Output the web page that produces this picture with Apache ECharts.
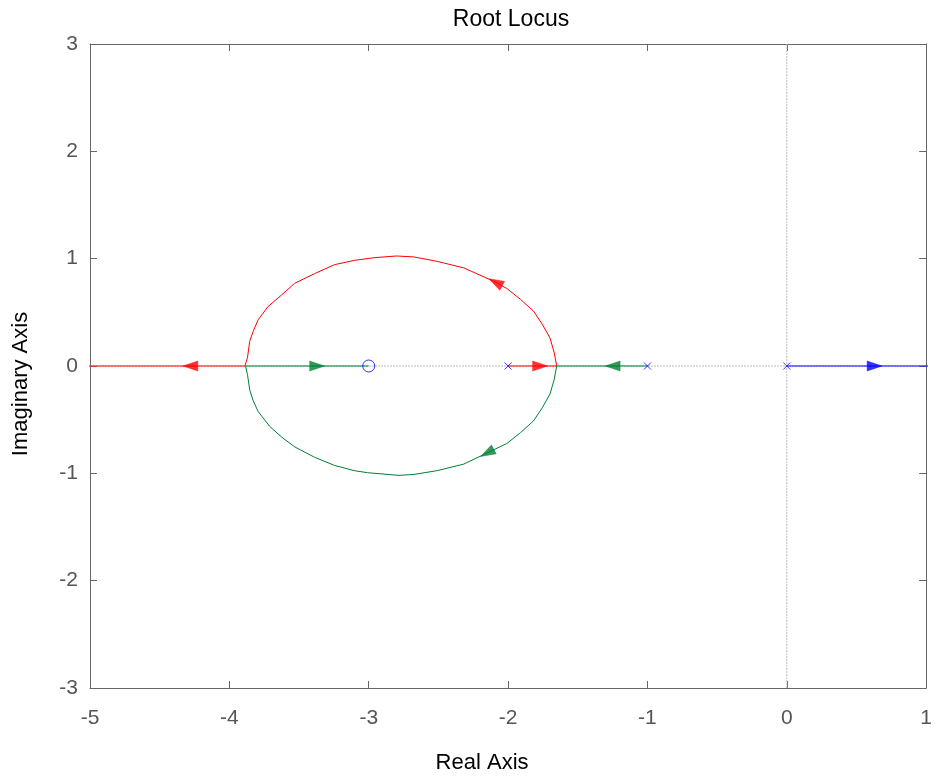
<!DOCTYPE html>
<html>
<head>
<meta charset="utf-8">
<script src="https://cdn.jsdelivr.net/npm/echarts@6/dist/echarts.min.js"></script>
<style>html,body{margin:0;padding:0;background:#fff}#c{width:935px;height:779px}</style>
</head>
<body>
<div id="c"></div>
<script>
// Tick labels
var xTicks = [-5, -4, -3, -2, -1, 0, 1];
var yTicks = [-3, -2, -1, 0, 1, 2, 3];

// Open-loop poles and zeros
var poles = [[0, 0], [-1, 0], [-2, 0]];
var zeros = [[-3, 0]];

// Branch 1 (blue): pole at 0 to +inf
var blueBranch = [[0, 0], [1.2, 0]];

// Branch 2 (red): pole -2 -> breakaway -> upper arc -> break-in -> -inf
var redReal1 = [[-2, 0], [-1.651, 0]];
var redUpper = [
  [-1.651, 0.0], [-1.670, 0.13], [-1.699, 0.26], [-1.755, 0.39], [-1.818, 0.512],
  [-1.910, 0.62], [-2.009, 0.722], [-2.104, 0.79], [-2.318, 0.914], [-2.509, 0.975],
  [-2.675, 1.016], [-2.800, 1.025], [-2.961, 1.009], [-3.104, 0.984], [-3.246, 0.944],
  [-3.389, 0.86], [-3.532, 0.77], [-3.627, 0.66], [-3.723, 0.553], [-3.794, 0.43],
  [-3.830, 0.32], [-3.854, 0.23], [-3.870, 0.077], [-3.889, 0.0]
];
var redReal2 = [[-3.889, 0], [-5.2, 0]];

// Branch 3 (green): pole -1 -> breakaway -> lower arc -> break-in -> zero -3
var greenReal1 = [[-1, 0], [-1.651, 0]];
var greenLower = [
  [-1.651, 0.0], [-1.670, -0.13], [-1.699, -0.26], [-1.755, -0.39], [-1.818, -0.512],
  [-1.910, -0.62], [-2.009, -0.722], [-2.150, -0.81], [-2.318, -0.914], [-2.509, -0.975],
  [-2.675, -1.010], [-2.782, -1.019], [-3.009, -0.994], [-3.104, -0.975], [-3.246, -0.926],
  [-3.389, -0.85], [-3.532, -0.753], [-3.627, -0.66], [-3.711, -0.562], [-3.794, -0.423],
  [-3.830, -0.32], [-3.854, -0.222], [-3.870, -0.08], [-3.884, 0.0]
];
var greenReal2 = [[-3.884, 0], [-3, 0]];

// Direction arrows: [x, y, direction angle in degrees]
var blueArrows = [[0.63, 0, 0]];
var redArrows = [[-4.28, 0, 180], [-2.09, 0.78, 152], [-1.77, 0, 0]];
var greenArrows = [[-3.37, 0, 0], [-1.25, 0, 180], [-2.15, -0.81, 208]];

var BLUE = '#0000ff', RED = '#ff0000', GREEN = '#008033', GREY = '#bdbdbd';
var FONT = '"Liberation Sans", Arial, Helvetica, sans-serif';

function lineSeries(data, color, extra) {
  var s = {
    type: 'line', data: data, showSymbol: false, symbol: 'none', silent: true,
    animation: false, clip: true,
    lineStyle: { color: color, width: 1 }, z: 3
  };
  if (extra) for (var k in extra) s[k] = extra[k];
  return s;
}
function arrowSeries(data, color) {
  return {
    type: 'scatter', animation: false, silent: true, z: 5,
    data: data.map(function (d) { return { value: [d[0], d[1]], symbolRotate: d[2] - 90 }; }),
    symbol: 'triangle', symbolSize: [10, 15],
    itemStyle: { color: color, borderColor: color, borderWidth: 0.5 }
  };
}

var axisCommon = {
  type: 'value',
  axisLine: { show: true, onZero: false, lineStyle: { color: '#666', width: 1 } },
  axisTick: { show: true, inside: true, length: 7, lineStyle: { color: '#666' } },
  splitLine: { show: false }
};

var chart = echarts.init(document.getElementById('c'), null, { renderer: 'canvas' });
chart.setOption({
  animation: false,
  backgroundColor: '#fff',
  title: {
    text: 'Root Locus', left: 506, textAlign: 'center', top: 3,
    textStyle: { fontFamily: FONT, fontSize: 23, fontWeight: 'normal', color: '#000' }
  },
  grid: { left: 90, right: 5, top: 44, bottom: 88, containLabel: false },
  xAxis: [
    Object.assign({}, axisCommon, {
      min: -5, max: 1, interval: 1, position: 'bottom',
      name: 'Real Axis', nameLocation: 'middle', nameGap: 64,
      nameTextStyle: { fontFamily: FONT, fontSize: 22, color: '#000', padding: [0, 52, 0, 0] },
      axisLabel: { show: true, margin: 20, color: '#555', fontFamily: FONT, fontSize: 21,
        formatter: function (v) { return xTicks.indexOf(v) >= 0 ? String(v) : ''; } }
    }),
    Object.assign({}, axisCommon, {
      min: -5, max: 1, interval: 1, position: 'top', axisLabel: { show: false }
    })
  ],
  yAxis: [
    Object.assign({}, axisCommon, {
      min: -3, max: 3, interval: 1, position: 'left',
      name: 'Imaginary Axis', nameLocation: 'middle', nameGap: 58, nameRotate: 90,
      nameTextStyle: { fontFamily: FONT, fontSize: 22, color: '#000', padding: [0, 36, 0, 0] },
      axisLabel: { show: true, margin: 12, color: '#555', fontFamily: FONT, fontSize: 21,
        formatter: function (v) { return yTicks.indexOf(v) >= 0 ? String(v) : ''; } }
    }),
    Object.assign({}, axisCommon, {
      min: -3, max: 3, interval: 1, position: 'right', axisLabel: { show: false }
    })
  ],
  series: [
    lineSeries([[-5, 0], [1, 0]], GREY, { z: 1, lineStyle: { color: GREY, width: 1, type: [2, 1] } }),
    lineSeries([[0, -3], [0, 3]], GREY, { z: 1, lineStyle: { color: GREY, width: 1, type: [2, 1] } }),
    lineSeries(blueBranch, BLUE),
    lineSeries(redReal1, RED),
    lineSeries(redUpper, RED),
    lineSeries(redReal2, RED),
    lineSeries(greenReal1, GREEN),
    lineSeries(greenLower, GREEN),
    lineSeries(greenReal2, GREEN),
    arrowSeries(blueArrows, BLUE),
    arrowSeries(redArrows, RED),
    arrowSeries(greenArrows, GREEN),
    {
      type: 'scatter', animation: false, silent: true, z: 6, data: poles,
      symbol: 'path://M0,0L10,10M10,0L0,10', symbolSize: 7,
      itemStyle: { color: 'transparent', borderColor: BLUE, borderWidth: 1 }
    },
    {
      type: 'scatter', animation: false, silent: true, z: 6, data: zeros,
      symbol: 'circle', symbolSize: 12,
      itemStyle: { color: 'transparent', borderColor: BLUE, borderWidth: 1 }
    }
  ]
});
</script>
</body>
</html>
